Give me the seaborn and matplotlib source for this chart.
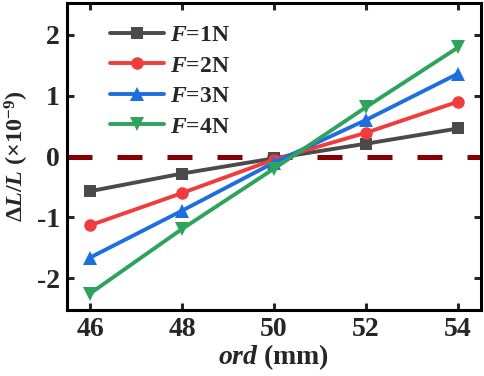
import matplotlib
matplotlib.use("Agg")
import matplotlib.pyplot as plt
import seaborn as sns
import pandas as pd

ord_mm = [46, 48, 50, 52, 54]
f1 = [-0.57, -0.28, -0.03, 0.21, 0.46]
f2 = [-1.13, -0.60, -0.05, 0.39, 0.90]
f3 = [-1.66, -0.89, -0.10, 0.60, 1.36]
f4 = [-2.25, -1.19, -0.20, 0.81, 1.79]
labels = ["$\\mathit{F}$=1N", "$\\mathit{F}$=2N", "$\\mathit{F}$=3N", "$\\mathit{F}$=4N"]
series = [f1, f2, f3, f4]
colors = ["#4a4a4a", "#f03c3c", "#1f6ee0", "#2ea35c"]
markers = ["s", "o", "^", "v"]

sns.set_style("ticks")
plt.rcParams['font.family'] = ['Liberation Serif', 'DejaVu Serif']
plt.rcParams['font.weight'] = 'bold'
plt.rcParams['axes.unicode_minus'] = False
plt.rcParams['mathtext.fontset'] = 'custom'
plt.rcParams['mathtext.rm'] = 'Liberation Serif:bold'
plt.rcParams['mathtext.it'] = 'Liberation Serif:italic:bold'
plt.rcParams['mathtext.bf'] = 'Liberation Serif:bold'

fig = plt.figure(figsize=(4.84, 3.76), dpi=100)
ax = fig.add_axes([67/484, 1 - 310/376, (481-67)/484, (310-3)/376])

ax.axhline(0, color="#850000", lw=3.6, dashes=(5.0, 5.0), zorder=1)

for y, lab, c, m in zip(series, labels, colors, markers):
    df = pd.DataFrame({"x": ord_mm, "y": y})
    sns.lineplot(data=df, x="x", y="y", ax=ax, color=c, marker=m,
                 markersize=10 if m in "^v" else 9,
                 markeredgewidth=0, linewidth=2.8, label=lab, zorder=3)

ax.set_xlim(45.5, 54.5)
ax.set_ylim(-2.52, 2.52)
ax.set_xticks(ord_mm)
ax.set_yticks([-2, -1, 0, 1, 2])
ax.tick_params(direction="in", length=5, width=2.2, labelsize=20, top=True, right=True, pad=5)
for lbl in ax.get_xticklabels() + ax.get_yticklabels():
    lbl.set_fontweight("bold")
for s in ax.spines.values():
    s.set_linewidth(2.2)
    s.set_color("black")

ax.set_xlabel("$\\mathit{ord}$ (mm)", fontsize=20, fontweight="bold", labelpad=0)
ax.set_ylabel("$\\Delta\\mathit{L}/\\mathit{L}$ (×10$^{-9}$)", fontsize=17.5, fontweight="bold", labelpad=4)

leg = ax.legend(loc="upper left", frameon=False, fontsize=17, handlelength=2.3,
                labelspacing=0.38, handletextpad=0.25, borderaxespad=0.0,
                bbox_to_anchor=(0.08, 0.96))

fig.savefig("out.png", dpi=100)
